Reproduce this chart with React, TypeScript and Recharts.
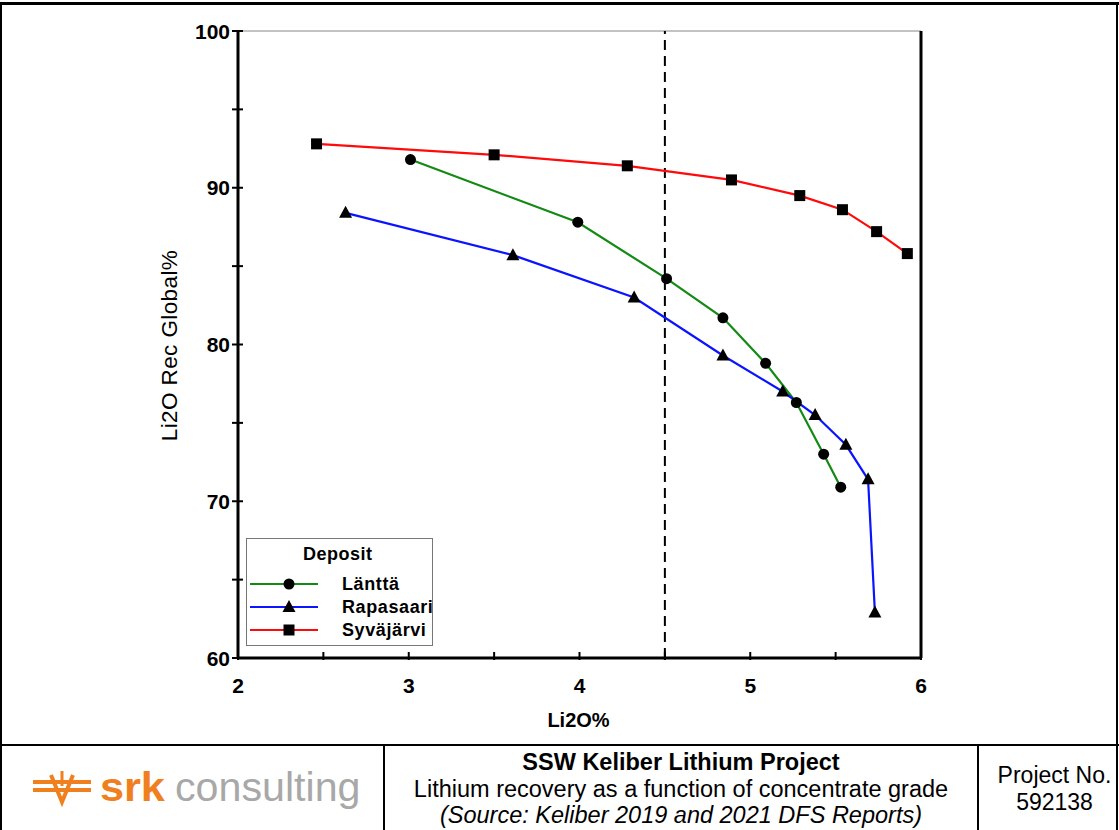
import { Label, Line, LineChart, ReferenceLine, XAxis, YAxis } from 'recharts';

const FONT = "Arial, 'Liberation Sans', sans-serif";

const lanttaX = [3.01, 3.99, 4.51, 4.84, 5.09, 5.27, 5.43, 5.53];
const lanttaY = [91.8, 87.8, 84.2, 81.7, 78.8, 76.3, 73.0, 70.9];
const rapasaariX = [2.63, 3.61, 4.32, 4.84, 5.19, 5.38, 5.56, 5.69, 5.73];
const rapasaariY = [88.4, 85.7, 83.0, 79.3, 77.0, 75.5, 73.6, 71.4, 62.9];
const syvajarviX = [2.46, 3.5, 4.28, 4.89, 5.29, 5.54, 5.74, 5.92];
const syvajarviY = [92.8, 92.1, 91.4, 90.5, 89.5, 88.6, 87.2, 85.8];

const xTicks = [2, 2.5, 3, 3.5, 4, 4.5, 5, 5.5, 6];
const yTicks = [60, 65, 70, 75, 80, 85, 90, 95, 100];
const gradeCutoff = 4.5;

type MarkerKind = 'circle' | 'triangle' | 'square';

const series = [
  { name: 'Länttä', color: '#138a13', marker: 'circle' as MarkerKind, xs: lanttaX, ys: lanttaY },
  { name: 'Rapasaari', color: '#0a14ff', marker: 'triangle' as MarkerKind, xs: rapasaariX, ys: rapasaariY },
  { name: 'Syväjärvi', color: '#ff0a0a', marker: 'square' as MarkerKind, xs: syvajarviX, ys: syvajarviY },
];

const TICK_FONT = 21;

function toPoints(xs: number[], ys: number[]) {
  return xs.map((x, i) => ({ x, y: ys[i] }));
}

function Marker({ kind, cx, cy }: { kind: MarkerKind; cx: number; cy: number }) {
  if (kind === 'circle') return <circle cx={cx} cy={cy} r={5.5} fill="#000" />;
  if (kind === 'square') return <rect x={cx - 5.5} y={cy - 5.5} width={11} height={11} fill="#000" />;
  return <polygon points={`${cx},${cy - 7} ${cx - 6.5},${cy + 5} ${cx + 6.5},${cy + 5}`} fill="#000" />;
}

function LeftTick(props: any) {
  const { x, y, payload } = props;
  const major = payload.value % 10 === 0;
  return (
    <g>
      <line x1={x - 6} x2={x + 5} y1={y} y2={y} stroke="#000" strokeWidth={2} />
      {major && (
        <text x={x - 8} y={y + 7.5} textAnchor="end" fontSize={TICK_FONT} fontWeight="bold" fontFamily={FONT} fill="#000">
          {payload.value}
        </text>
      )}
    </g>
  );
}

function RightTick(props: any) {
  const { x, y, payload } = props;
  const major = payload.value % 10 === 0;
  return (
    <g>
      <line x1={x - 5} x2={x + 6} y1={y} y2={y} stroke="#000" strokeWidth={2} />
      {major && (
        <text x={x + 8} y={y + 7.5} textAnchor="start" fontSize={TICK_FONT} fontWeight="bold" fontFamily={FONT} fill="#000">
          {payload.value}
        </text>
      )}
    </g>
  );
}

function BottomTick(props: any) {
  const { x, y, payload } = props;
  const major = Number.isInteger(payload.value);
  return (
    <g>
      <line x1={x} x2={x} y1={y - 6} y2={y + 2} stroke="#000" strokeWidth={2} />
      {major && (
        <text x={x} y={y + 35} textAnchor="middle" fontSize={TICK_FONT} fontWeight="bold" fontFamily={FONT} fill="#000">
          {payload.value}
        </text>
      )}
    </g>
  );
}

function Legend() {
  return (
    <div
      style={{
        position: 'absolute',
        left: 246,
        top: 538,
        width: 187,
        height: 108,
        border: '1px solid #777',
        background: '#fff',
        fontFamily: FONT,
        fontWeight: 'bold',
        fontSize: 18,
        lineHeight: '20px',
        boxSizing: 'border-box',
      }}
    >
      <div style={{ position: 'absolute', left: 56, top: 5, letterSpacing: 0.5 }}>Deposit</div>
      {series.map((s, i) => (
        <div key={s.name} style={{ position: 'absolute', left: 0, top: 35 + i * 23, height: 20, width: 186 }}>
          <svg width={80} height={20} style={{ position: 'absolute', left: 3, top: 0 }}>
            <line x1={0} x2={68} y1={10} y2={10} stroke={s.color} strokeWidth={2} />
            <Marker kind={s.marker} cx={39} cy={10} />
          </svg>
          <span style={{ position: 'absolute', left: 95, top: 0, letterSpacing: 0.6 }}>{s.name}</span>
        </div>
      ))}
    </div>
  );
}

function Logo() {
  const orange = '#f0801e';
  return (
    <div style={{ position: 'absolute', left: 30, top: 766, width: 340, height: 44 }}>
      <svg width={64} height={44} style={{ position: 'absolute', left: 0, top: 0 }}>
        <line x1={3} x2={61} y1={16} y2={16} stroke={orange} strokeWidth={4} />
        <line x1={3} x2={61} y1={24} y2={24} stroke={orange} strokeWidth={4} />
        <polyline points="21,9 32,36 43,9" fill="none" stroke={orange} strokeWidth={4} />
        <line x1={32} x2={32} y1={5} y2={20} stroke={orange} strokeWidth={3} />
      </svg>
      <span
        style={{
          position: 'absolute',
          left: 70,
          top: -1,
          fontFamily: FONT,
          fontSize: 40,
          fontWeight: 'bold',
          color: orange,
          display: 'inline-block',
          transform: 'scaleX(1.08)',
          transformOrigin: 'left',
        }}
      >
        srk
      </span>
      <span
        style={{
          position: 'absolute',
          left: 145,
          top: -1,
          fontFamily: FONT,
          fontSize: 40,
          color: '#a8a8a8',
          display: 'inline-block',
          transform: 'scaleX(1.03)',
          transformOrigin: 'left',
        }}
      >
        consulting
      </span>
    </div>
  );
}

export default function App() {
  return (
    <div
      style={{
        position: 'absolute',
        left: 0,
        top: 0,
        width: 1119,
        height: 830,
        background: '#fff',
        fontFamily: FONT,
        overflow: 'hidden',
      }}
    >
      {/* frame */}
      <div style={{ position: 'absolute', left: 0, top: 2, width: 1119, height: 3, background: '#000' }} />
      <div style={{ position: 'absolute', left: 0, top: 2, width: 2, height: 828, background: '#000' }} />
      <div style={{ position: 'absolute', left: 1116, top: 2, width: 2, height: 828, background: '#000' }} />
      <div style={{ position: 'absolute', left: 0, top: 744, width: 1119, height: 2, background: '#000' }} />
      <div style={{ position: 'absolute', left: 383, top: 744, width: 2, height: 86, background: '#000' }} />
      <div style={{ position: 'absolute', left: 977, top: 744, width: 2, height: 86, background: '#000' }} />

      <div style={{ position: 'absolute', left: 0, top: 0 }}>
        <LineChart width={1119} height={745} margin={{ top: 31, right: 0, bottom: 0, left: 0 }}>
          <XAxis
            xAxisId="x"
            type="number"
            dataKey="x"
            domain={[2, 6]}
            ticks={xTicks}
            height={87}
            axisLine={{ stroke: '#000', strokeWidth: 3 }}
            tickLine={false}
            tickSize={0}
            tickMargin={0}
            tick={<BottomTick />}
            interval={0}
          >
            <Label
              content={({ viewBox }: any) => (
                <text
                  x={viewBox.x + viewBox.width / 2 - 1}
                  y={viewBox.y + 69}
                  textAnchor="middle"
                  fontSize={20}
                  fontWeight="bold"
                  fontFamily={FONT}
                  fill="#000"
                >
                  Li2O%
                </text>
              )}
            />
          </XAxis>
          <YAxis
            yAxisId="left"
            type="number"
            domain={[60, 100]}
            ticks={yTicks}
            width={238}
            axisLine={{ stroke: '#000', strokeWidth: 3 }}
            tickLine={false}
            tickSize={0}
            tickMargin={0}
            tick={<LeftTick />}
            interval={0}
          >
            <Label
              content={({ viewBox }: any) => {
                const cx = viewBox.x + 171;
                const cy = viewBox.y + viewBox.height / 2 + 1;
                return (
                  <text
                    x={cx}
                    y={cy}
                    transform={`rotate(-90, ${cx}, ${cy})`}
                    textAnchor="middle"
                    dominantBaseline="middle"
                    fontSize={22.5}
                    fontWeight="normal"
                    letterSpacing={0.4}
                    fontFamily={FONT}
                    fill="#000"
                  >
                    Li2O Rec Global%
                  </text>
                );
              }}
            />
          </YAxis>
          <YAxis
            yAxisId="right"
            orientation="right"
            type="number"
            domain={[60, 100]}
            ticks={yTicks}
            width={198}
            axisLine={{ stroke: '#000', strokeWidth: 3 }}
            tickLine={false}
            tickSize={0}
            tickMargin={0}
            tick={<RightTick />}
            interval={0}
          />
          <ReferenceLine xAxisId="x" yAxisId="left" y={100} stroke="#888" strokeWidth={1} />
          <ReferenceLine
            xAxisId="x"
            yAxisId="left"
            x={gradeCutoff}
            stroke="#000"
            strokeWidth={2}
            strokeDasharray="10 6"
          />
          {series.map((s) => (
            <Line
              key={s.name}
              xAxisId="x"
              yAxisId="left"
              data={toPoints(s.xs, s.ys)}
              dataKey="y"
              name={s.name}
              type="linear"
              stroke={s.color}
              strokeWidth={2.2}
              isAnimationActive={false}
              dot={(p: any) => <Marker key={`${s.name}-${p.index}`} kind={s.marker} cx={p.cx} cy={p.cy} />}
              activeDot={false}
            />
          ))}
        </LineChart>
      </div>

      <Legend />
      <Logo />

      <div
        style={{
          position: 'absolute',
          left: 385,
          top: 749,
          width: 592,
          textAlign: 'center',
          fontSize: 23.5,
          lineHeight: '26.5px',
          color: '#000',
        }}
      >
        <div style={{ fontWeight: 'bold' }}>SSW Keliber Lithium Project</div>
        <div>Lithium recovery as a function of concentrate grade</div>
        <div style={{ fontStyle: 'italic' }}>(Source: Keliber 2019 and 2021 DFS Reports)</div>
      </div>
      <div
        style={{
          position: 'absolute',
          left: 986,
          top: 762,
          width: 137,
          textAlign: 'center',
          fontSize: 23,
          lineHeight: '27px',
          color: '#000',
        }}
      >
        <div>Project No.</div>
        <div>592138</div>
      </div>
    </div>
  );
}
